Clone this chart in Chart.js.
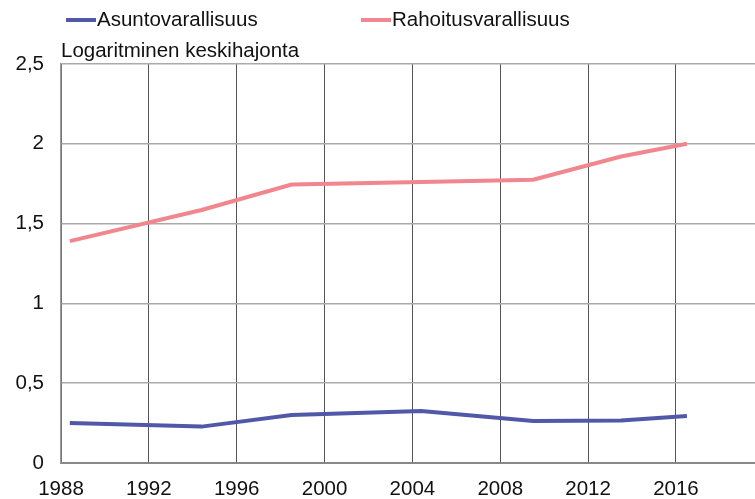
<!DOCTYPE html>
<html>
<head>
<meta charset="utf-8">
<script src="https://cdn.jsdelivr.net/npm/chart.js@4/dist/chart.umd.min.js"></script>
<style>
  html, body { margin: 0; padding: 0; background: #fff; }
  #wrap { position: relative; width: 755px; height: 499px; overflow: hidden; font-family: "Liberation Sans", Arial, sans-serif; }
  #c { position: absolute; left: 0; top: 0; }
  .leg { position: absolute; top: 8px; font-size: 20.5px; color: #111; line-height: 22px; white-space: nowrap; }
  .leg .sw { display: inline-block; width: 30px; height: 4px; vertical-align: middle; margin-right: 1px; position: relative; top: -1px; }
  #ytitle { position: absolute; left: 61px; top: 39px; font-size: 20.5px; color: #111; line-height: 22px; white-space: nowrap; }
</style>
</head>
<body>
<div id="wrap">
  <canvas id="c" width="755" height="499"></canvas>
  <div class="leg" style="left:66px"><span class="sw" style="background:rgb(82,88,168)"></span>Asuntovarallisuus</div>
  <div class="leg" style="left:361px"><span class="sw" style="background:rgb(242,134,142)"></span>Rahoitusvarallisuus</div>
  <div id="ytitle">Logaritminen keskihajonta</div>
</div>
<script>
const surveyYears = [1988.4, 1994.4, 1998.5, 2004.4, 2009.5, 2013.5, 2016.5];
const asuntovarallisuus = [0.25, 0.228, 0.30, 0.326, 0.263, 0.266, 0.294];
const rahoitusvarallisuus = [1.39, 1.585, 1.745, 1.76, 1.775, 1.92, 2.0];
const xTickYears = [1988, 1992, 1996, 2000, 2004, 2008, 2012, 2016];
const yTickValues = [0, 0.5, 1, 1.5, 2, 2.5];
const seriesNames = ['Asuntovarallisuus', 'Rahoitusvarallisuus'];

const toPoints = (vals) => vals.map((v, i) => ({ x: surveyYears[i], y: v }));

new Chart(document.getElementById('c'), {
  type: 'line',
  data: {
    datasets: [
      { label: seriesNames[0], data: toPoints(asuntovarallisuus), borderColor: 'rgb(82,88,168)', borderWidth: 4, pointRadius: 0, tension: 0 },
      { label: seriesNames[1], data: toPoints(rahoitusvarallisuus), borderColor: 'rgb(242,134,142)', borderWidth: 4, pointRadius: 0, tension: 0 }
    ]
  },
  options: {
    responsive: false,
    animation: false,
    layout: { padding: { top: 64, right: 0, left: 0, bottom: 0 } },
    plugins: { legend: { display: false }, title: { display: false }, tooltip: { enabled: false } },
    scales: {
      x: {
        type: 'linear',
        min: 1988,
        max: 2019.6,
        afterBuildTicks: (s) => { s.ticks = xTickYears.map(v => ({ value: v })); },
        afterFit: (s) => { s.height = 36; },
        grid: { color: '#555', lineWidth: 1, drawTicks: false },
        border: { color: '#888', width: 2 },
        ticks: { color: '#111', font: { family: 'Liberation Sans', size: 20.5 }, padding: 14, maxRotation: 0, callback: (v) => String(v) }
      },
      y: {
        min: 0,
        max: 2.5,
        afterBuildTicks: (s) => { s.ticks = yTickValues.map(v => ({ value: v })); },
        afterFit: (s) => { s.width = 61; },
        grid: { color: '#aaa', lineWidth: 1.5, drawTicks: false },
        border: { color: '#999', width: 1.5 },
        ticks: { color: '#111', font: { family: 'Liberation Sans', size: 20.5 }, padding: 17, callback: (v) => String(v).replace('.', ',') }
      }
    }
  }
});
</script>
</body>
</html>
